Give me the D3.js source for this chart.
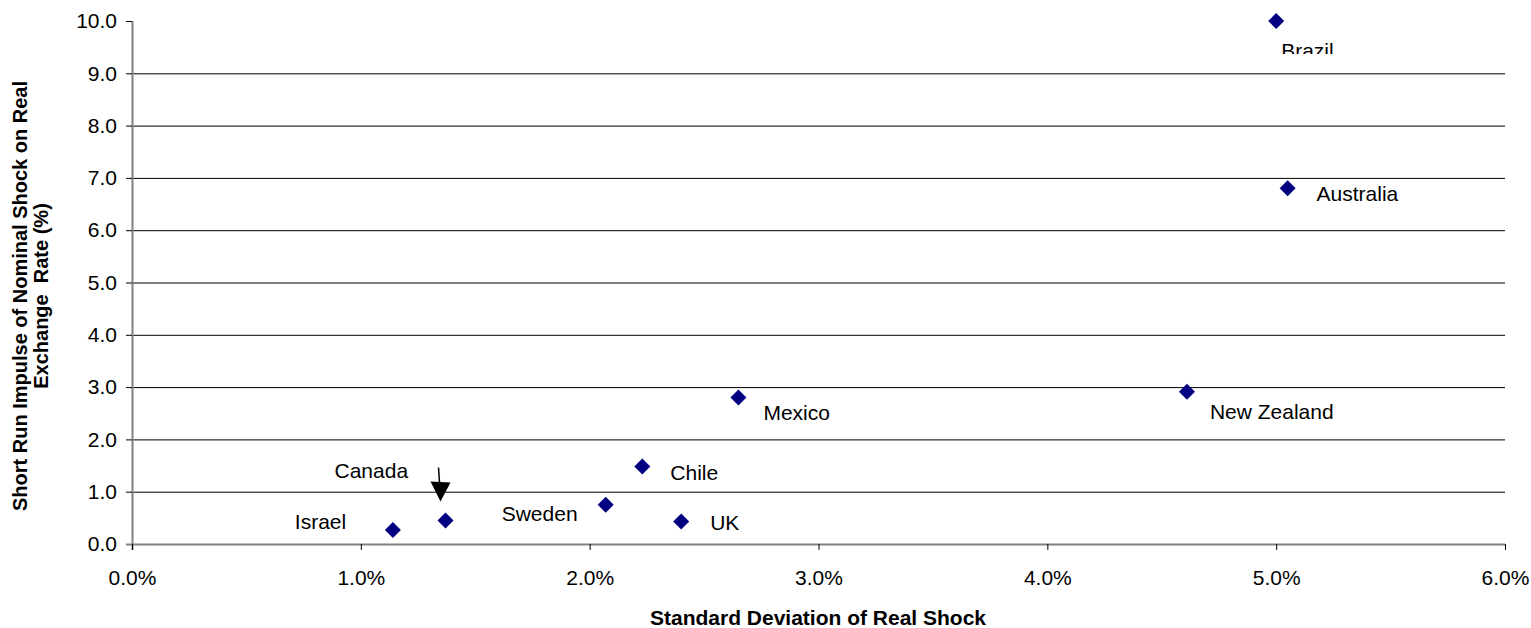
<!DOCTYPE html>
<html>
<head>
<meta charset="utf-8">
<script src="https://cdn.jsdelivr.net/npm/d3@7"></script>
<style>
  html, body { margin: 0; padding: 0; background: #fff; }
  svg { display: block; font-family: "Liberation Sans", Arial, sans-serif; }
</style>
</head>
<body>
<svg id="chart" width="1531" height="628"></svg>
<script>
// ---- data ----
const countries = ["Brazil", "Australia", "New Zealand", "Mexico", "Chile", "Canada", "Israel", "Sweden", "UK"];
const stdDevRealShock = [0.0500, 0.0505, 0.0461, 0.0265, 0.0223, 0.0137, 0.0114, 0.0207, 0.0240];
const shortRunImpulse = [10.0, 6.8, 2.91, 2.80, 1.48, 0.45, 0.27, 0.75, 0.43];
const yTicks = [0, 1, 2, 3, 4, 5, 6, 7, 8, 9, 10];
const xTicks = [0, 0.01, 0.02, 0.03, 0.04, 0.05, 0.06];
const xTitle = "Standard Deviation of Real Shock";
const yTitleLines = ["Short Run Impulse of Nominal Shock on Real", "Exchange  Rate (%)"];

// label placement relative to each point (layout only)
const labelDx = [5, 29, 23, 25, 28, -111, -98, -104, 29];
const labelDy = [37, 13, 27, 22, 13, -42, -1, 16, 8];

const svg = d3.select("#chart");
const pLeft = 132, pRight = 1505, pTop = 21, pBottom = 544;
const fontSize = 21;

const x = d3.scaleLinear().domain([0, 0.06]).range([pLeft, pRight]);
const y = d3.scaleLinear().domain([0, 10]).range([pBottom, pTop]);

// gridlines
svg.append("g")
  .selectAll("line")
  .data(yTicks.filter(d => d > 0 && d < 10))
  .join("line")
  .attr("x1", pLeft).attr("x2", pRight)
  .attr("y1", d => y(d) + 0.5).attr("y2", d => y(d) + 0.5)
  .attr("stroke", "#000").attr("stroke-width", 1);

// y axis
const yAxis = svg.append("g")
  .attr("transform", `translate(${pLeft},0)`)
  .call(d3.axisLeft(y).tickValues(yTicks).tickFormat(d3.format(".1f")).tickSize(6).tickSizeOuter(0).tickPadding(9));
yAxis.select(".domain").attr("stroke", "#808080").attr("stroke-width", 2).attr("d", `M0.5,${pTop}V${pBottom + 6}`);
yAxis.selectAll(".tick line").attr("stroke", "#000");
yAxis.selectAll(".tick text").attr("font-size", fontSize).attr("fill", "#000").attr("font-family", "Liberation Sans, Arial, sans-serif");

// x axis
const xAxis = svg.append("g")
  .attr("transform", `translate(0,${pBottom})`)
  .call(d3.axisBottom(x).tickValues(xTicks).tickFormat(d3.format(".1%")).tickSize(6).tickSizeOuter(0).tickPadding(20));
xAxis.select(".domain").attr("stroke", "#808080").attr("stroke-width", 2).attr("d", `M${pLeft - 6},0.5H${pRight}`);
xAxis.selectAll(".tick line").attr("stroke", "#000");
xAxis.selectAll(".tick text").attr("font-size", fontSize).attr("fill", "#000").attr("font-family", "Liberation Sans, Arial, sans-serif");

// clip for Brazil label (cut off in the original)
svg.append("defs").append("clipPath").attr("id", "brazilclip")
  .append("rect").attr("x", 0).attr("y", 0).attr("width", 1531).attr("height", 54);

const pts = countries.map((c, i) => ({ c, xv: stdDevRealShock[i], yv: shortRunImpulse[i], dx: labelDx[i], dy: labelDy[i] }));

// markers
const diamond = d3.symbol().type(d3.symbolSquare).size(128);
svg.append("g").selectAll("path")
  .data(pts)
  .join("path")
  .attr("d", diamond)
  .attr("transform", d => `translate(${x(d.xv)},${y(d.yv)}) rotate(45)`)
  .attr("fill", "#000080");

// labels
svg.append("g").selectAll("text")
  .data(pts)
  .join("text")
  .attr("x", d => x(d.xv) + d.dx)
  .attr("y", d => y(d.yv) + d.dy)
  .attr("font-size", fontSize)
  .attr("fill", "#000")
  .attr("clip-path", d => d.c === "Brazil" ? "url(#brazilclip)" : null)
  .text(d => d.c);

// Canada arrow
const ci = countries.indexOf("Canada");
const cx = x(stdDevRealShock[ci]), cy = y(shortRunImpulse[ci]);
const tipX = cx - 5, tipY = cy - 19;
svg.append("line")
  .attr("x1", tipX - 2).attr("y1", tipY - 34)
  .attr("x2", tipX - 0.5).attr("y2", tipY - 12)
  .attr("stroke", "#000").attr("stroke-width", 1.5);
svg.append("path")
  .attr("d", `M${tipX},${tipY} L${tipX - 10},${tipY - 20} L${tipX + 10},${tipY - 19} Z`)
  .attr("fill", "#000");

// axis titles
svg.append("text")
  .attr("x", (pLeft + pRight) / 2 - 0.5)
  .attr("y", 625)
  .attr("text-anchor", "middle")
  .attr("font-size", fontSize)
  .attr("font-weight", "bold")
  .text(xTitle);

const yt = svg.append("text")
  .attr("transform", "translate(0,296) rotate(-90)")
  .attr("text-anchor", "middle")
  .attr("font-size", 20)
  .attr("font-weight", "bold");
yt.selectAll("tspan").data(yTitleLines).join("tspan")
  .attr("x", 0)
  .attr("y", (d, i) => 27 + i * 21)
  .style("white-space", "pre")
  .text(d => d);
</script>
</body>
</html>
